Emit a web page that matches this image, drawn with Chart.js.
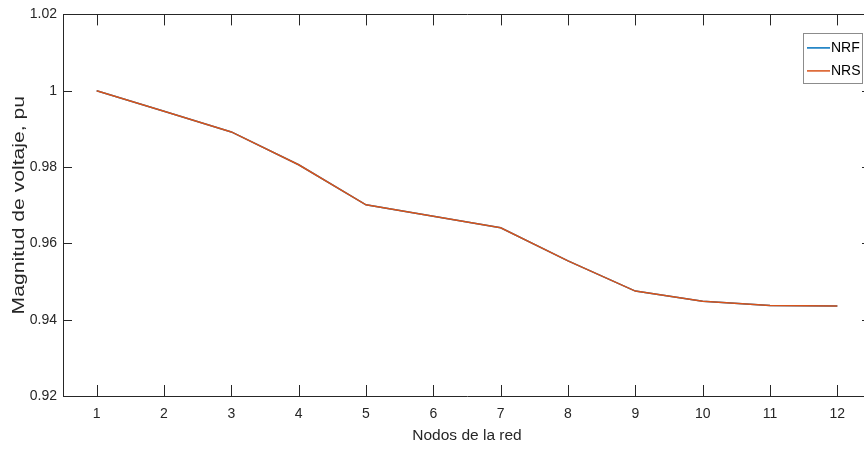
<!DOCTYPE html>
<html>
<head>
<meta charset="utf-8">
<script src="https://cdn.jsdelivr.net/npm/chart.js@4.4.1/dist/chart.umd.min.js"></script>
<style>
  html, body { margin: 0; padding: 0; background: #fff; overflow: hidden; }
  #wrap { width: 864px; height: 453px; overflow: hidden; position: relative; }
  canvas { display: block; }
</style>
</head>
<body>
<div id="wrap"><canvas id="c" width="871" height="453"></canvas></div>
<script>
// Network nodes and voltage magnitudes (p.u.) for the two load-flow methods
const nodes = ['1', '2', '3', '4', '5', '6', '7', '8', '9', '10', '11', '12'];
const nrfValues = [1.0000, 0.9946, 0.9892, 0.9806, 0.9701, 0.9671, 0.9641, 0.9554, 0.9475, 0.9448, 0.9437, 0.9436];
const nrsValues = [1.0000, 0.9946, 0.9892, 0.9806, 0.9701, 0.9671, 0.9641, 0.9554, 0.9475, 0.9448, 0.9437, 0.9436];
const yTicks = [0.92, 0.94, 0.96, 0.98, 1.00, 1.02];
const yTitle = 'Magnitud de voltaje, pu';

const INK = '#262626';
const FONT = '"Liberation Sans", Arial, Helvetica, sans-serif';

// Box around the axes with inward tick marks on all four sides
const axesBox = {
  id: 'axesBox',
  afterDraw(chart) {
    const { ctx, chartArea: a, scales } = chart;
    ctx.save();
    ctx.strokeStyle = INK;
    ctx.lineWidth = 1;
    ctx.beginPath();
    ctx.rect(Math.round(a.left) + 0.5, Math.round(a.top) + 0.5,
             Math.round(a.right - a.left), Math.round(a.bottom - a.top));
    const xs = scales.x, ys = scales.y;
    nodes.forEach((n, i) => {
      const px = Math.round(xs.getPixelForValue(i)) + 0.5;
      ctx.moveTo(px, a.bottom); ctx.lineTo(px, a.bottom - 11);
      ctx.moveTo(px, a.top); ctx.lineTo(px, a.top + 11);
    });
    yTicks.forEach(v => {
      const py = Math.round(ys.getPixelForValue(v)) + 0.5;
      ctx.moveTo(a.left, py); ctx.lineTo(a.left + 9, py);
      ctx.moveTo(a.right, py); ctx.lineTo(a.right - 9, py);
    });
    ctx.stroke();
    ctx.restore();
  }
};

// Vertical axis title, set in a tall, narrow face along its reading direction
const yAxisTitle = {
  id: 'yAxisTitle',
  afterDraw(chart) {
    const { ctx, chartArea: a } = chart;
    ctx.save();
    ctx.translate(19.5, (a.top + a.bottom) / 2);
    ctx.rotate(-Math.PI / 2);
    ctx.scale(1.28, 1);
    ctx.font = '16.5px ' + FONT;
    ctx.fillStyle = INK;
    ctx.textAlign = 'center';
    ctx.textBaseline = 'middle';
    ctx.fillText(yTitle, 0, 0);
    ctx.restore();
  }
};

// Legend box in the upper right corner of the axes
const boxLegend = {
  id: 'boxLegend',
  afterDraw(chart) {
    const { ctx, chartArea: a } = chart;
    const w = 59, h = 50;
    const x0 = a.right - 9 - w, y0 = a.top + 19;
    ctx.save();
    ctx.fillStyle = '#fff';
    ctx.fillRect(x0, y0, w, h);
    ctx.strokeStyle = '#8c8c8c';
    ctx.lineWidth = 1;
    ctx.strokeRect(Math.round(x0) + 0.5, Math.round(y0) + 0.5, w, h);
    ctx.font = '14px ' + FONT;
    ctx.textBaseline = 'middle';
    ctx.textAlign = 'left';
    chart.data.datasets.forEach((ds, i) => {
      const cy = y0 + 14.5 + i * 23;
      ctx.strokeStyle = ds.borderColor;
      ctx.lineWidth = 1.5;
      ctx.beginPath();
      ctx.moveTo(x0 + 4, cy); ctx.lineTo(x0 + 27, cy);
      ctx.stroke();
      ctx.fillStyle = '#000';
      ctx.fillText(ds.label, x0 + 28, cy + 0.5);
    });
    ctx.restore();
  }
};

new Chart(document.getElementById('c'), {
  type: 'line',
  data: {
    labels: nodes,
    datasets: [
      { label: 'NRF', data: nrfValues, borderColor: '#0072BD', borderWidth: 1.5,
        pointRadius: 0, tension: 0, fill: false, order: 2 },
      { label: 'NRS', data: nrsValues, borderColor: '#D95319', borderWidth: 1.5,
        pointRadius: 0, tension: 0, fill: false, order: 1 }
    ]
  },
  options: {
    responsive: false,
    animation: false,
    devicePixelRatio: 1,
    layout: { padding: { top: 14, left: 0, right: 0, bottom: 0 } },
    plugins: { legend: { display: false }, tooltip: { enabled: false } },
    scales: {
      x: {
        type: 'category',
        offset: true,
        grid: { display: false, drawTicks: false },
        border: { display: false },
        ticks: { color: INK, font: { family: FONT, size: 14 }, padding: 10, maxRotation: 0 },
        title: { display: true, text: 'Nodos de la red', color: INK,
                 font: { family: FONT, size: 15.5 }, padding: { top: 0, bottom: 8 } },
        afterFit(s) { s.height = 57; }
      },
      y: {
        min: 0.92, max: 1.02,
        afterBuildTicks(s) { s.ticks = yTicks.map(v => ({ value: v })); },
        grid: { display: false, drawTicks: false },
        border: { display: false },
        ticks: { color: INK, font: { family: FONT, size: 14 }, padding: 6,
                 callback: v => String(Number(v.toFixed(2))) },
        title: { display: false },
        afterFit(s) { s.width = 63; }
      }
    }
  },
  plugins: [axesBox, yAxisTitle, boxLegend]
});
</script>
</body>
</html>
